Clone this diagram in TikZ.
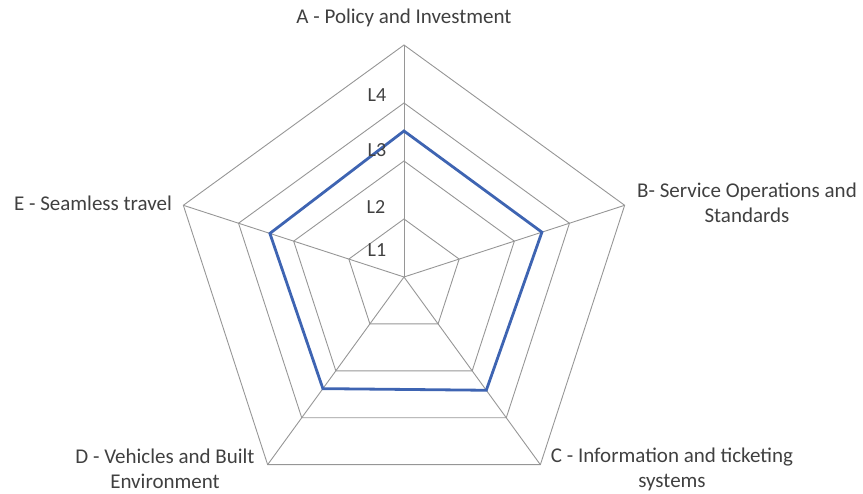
\documentclass[tikz,border=0pt]{standalone}
\usepackage{fontspec}
\setmainfont{Carlito}
\definecolor{gridgray}{RGB}{150,150,150}
\definecolor{txtgray}{RGB}{64,64,64}
\definecolor{serblue}{RGB}{62,100,178}
\begin{document}
\begin{tikzpicture}[x=1pt,y=1pt,
  gridline/.style={draw=gridgray,line width=0.9pt},
  spoke/.style={draw=gridgray,line width=0.9pt},
  series/.style={draw=serblue,line width=2.8pt,line join=miter},
  catlabel/.style={text=txtgray,font=\fontsize{21}{25}\selectfont,align=center,inner sep=0pt},
  lvllabel/.style={text=txtgray,font=\fontsize{20}{24}\selectfont,inner sep=0pt}]
\useasboundingbox (0,0) rectangle (863,494);
\begin{scope}[shift={(404,217)}]
  \coordinate (O) at (0,0);
  % ring vertices
  \foreach \l in {1,2,3,4}{
    \pgfmathsetmacro{\r}{58*\l}
    \coordinate (a\l) at (90:\r);
    \coordinate (b\l) at (18:\r);
    \coordinate (c\l) at (-54:\r);
    \coordinate (d\l) at (-126:\r);
    \coordinate (e\l) at (162:\r);
    \draw[gridline] (a\l) -- (b\l) -- (c\l) -- (d\l) -- (e\l) -- cycle;
  }
  \foreach \v in {a,b,c,d,e}{
    \draw[spoke] (O) -- (\v4);
  }
  % data series
  \coordinate (sa) at (90:146);
  \coordinate (sb) at (18:145);
  \coordinate (sc) at (-54:140);
  \coordinate (sd) at (-126:138);
  \coordinate (se) at (162:141);
  \draw[series] (sa) -- (sb) -- (sc) -- (sd) -- (se) -- cycle;
\end{scope}
% level labels
\node[lvllabel] (L4) at (377,399) {L4};
\node[lvllabel] (L3) at (377,344) {L3};
\node[lvllabel] (L2) at (376,287) {L2};
\node[lvllabel] (L1) at (377,244) {L1};
% category labels
\node[catlabel] (labA) at (404,476) {A - Policy and Investment};
\node[catlabel] (labB) at (747,291) {B- Service Operations and\\Standards};
\node[catlabel] (labC) at (672,25) {C - Information and ticketing\\systems};
\node[catlabel] (labD) at (165,25) {D - Vehicles and Built\\Environment};
\node[catlabel] (labE) at (93,291) {E - Seamless travel};
\end{tikzpicture}
\end{document}
